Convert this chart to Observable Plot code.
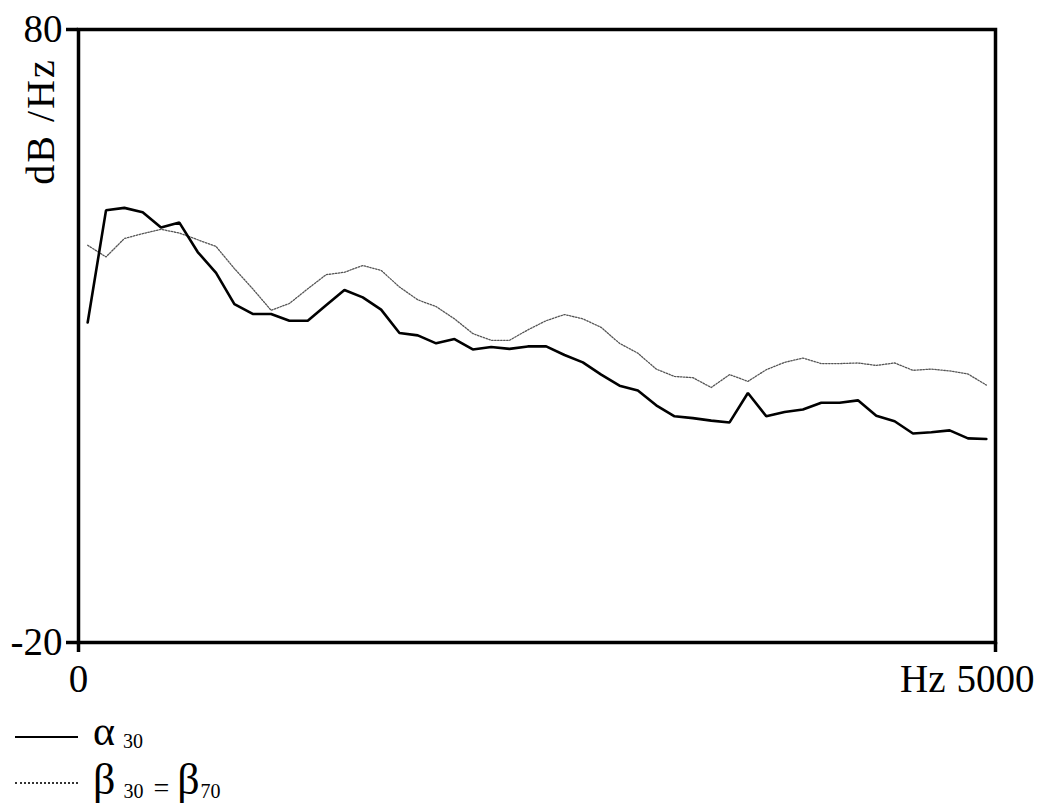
<!DOCTYPE html>
<html>
<head>
<meta charset="utf-8">
<script src="https://cdn.jsdelivr.net/npm/d3@7"></script>
<script src="https://cdn.jsdelivr.net/npm/@observablehq/plot@0.6"></script>
<style>
  html, body { margin: 0; padding: 0; background: #fff; }
  #chart svg { display: block; }
  #legend { position: relative; width: 1038px; height: 105px; font-family: "Liberation Serif", "Times New Roman", serif; font-size: 10px; color: #000; overflow: hidden; }
  #legend .sample { position: absolute; left: 15px; width: 63px; }
  #legend .lab { position: absolute; left: 93px; white-space: nowrap; }
  #legend .lab span { display: inline-block; }
  #legend .big1 { font-size: 42px; line-height: 34px; }
  #legend .big2 { font-size: 44px; line-height: 36px; }
  #legend .sub { font-size: 20px; line-height: 20px; margin-left: 8px; }
  #legend .eq { font-size: 28px; line-height: 20px; margin: 0 8px 0 10px; }
</style>
</head>
<body>
<div id="chart"></div>
<div id="legend"></div>
<script>
// Frequency bins (Hz)
const freqs = [50,150,250,350,450,550,650,750,850,950,1050,1150,1250,1350,1450,1550,1650,1750,1850,1950,
  2050,2150,2250,2350,2450,2550,2650,2750,2850,2950,3050,3150,3250,3350,3450,3550,3650,3750,3850,3950,
  4050,4150,4250,4350,4450,4550,4650,4750,4850,4950];
// α30 spectrum (dB/Hz)
const alpha30 = [32.2,50.5,50.9,50.2,47.7,48.5,43.7,40.3,35.2,33.6,33.6,32.5,32.5,35.0,37.5,36.3,34.3,30.5,30.1,28.8,
  29.5,27.8,28.2,27.9,28.3,28.3,26.9,25.7,23.7,21.9,21.1,18.7,16.9,16.6,16.2,15.9,20.7,16.9,17.6,18.0,
  19.1,19.1,19.5,17.0,16.1,14.1,14.3,14.6,13.3,13.2];
// β30 = β70 spectrum (dB/Hz)
const beta30 = [44.8,42.9,45.9,46.7,47.4,46.8,45.7,44.6,41.0,37.7,34.2,35.3,37.7,40.0,40.4,41.5,40.7,38.0,35.9,34.8,
  32.8,30.4,29.3,29.3,31.0,32.5,33.5,32.8,31.4,28.8,27.2,24.6,23.4,23.2,21.6,23.7,22.6,24.5,25.7,26.4,
  25.5,25.5,25.6,25.2,25.6,24.4,24.6,24.3,23.8,22.0];
const xTicks = [0, 5000];
const yTicks = [-20, 80];
const xLabel = "Hz";
const yLabel = "dB /Hz";

const alphaData = freqs.map((f, i) => ({f, v: alpha30[i]}));
const betaData = freqs.map((f, i) => ({f, v: beta30[i]}));

const chart = Plot.plot({
  width: 1038,
  height: 700,
  marginLeft: 78,
  marginRight: 43,
  marginTop: 29,
  marginBottom: 58,
  style: {fontFamily: "'Liberation Serif', 'Times New Roman', serif", fontSize: "39px", color: "#000", background: "#fff", overflow: "visible"},
  x: {domain: [0, 5000]},
  y: {domain: [-20, 80]},
  marks: [
    Plot.line(betaData, {x: "f", y: "v", stroke: "#555", strokeWidth: 1.3, strokeDasharray: "1.5,1.5"}),
    Plot.line(alphaData, {x: "f", y: "v", stroke: "#000", strokeWidth: 2.6, strokeLinejoin: "miter"}),
    Plot.frame({stroke: "#000", strokeWidth: 3.5}),
    Plot.axisX({ticks: xTicks, tickFormat: d => String(d), tickSize: 10, tickPadding: 12, strokeWidth: 3.5, label: null, fontSize: 39}),
    Plot.axisY({ticks: yTicks, tickFormat: d => String(d), tickSize: 12, tickPadding: 4, strokeWidth: 3.5, label: null, fontSize: 39}),
    Plot.text([xLabel], {frameAnchor: "bottom-right", text: d => d, textAnchor: "end", lineAnchor: "top", dx: -50, dy: 22, fontSize: 39}),
    Plot.text([yLabel], {frameAnchor: "top-left", text: d => d, rotate: -90, textAnchor: "middle", lineAnchor: "middle", dx: -37, dy: 92, fontSize: 40})
  ]
});
document.getElementById("chart").appendChild(chart);
d3.select(chart).selectAll("text").filter(function() { return this.textContent === yLabel; }).style("letter-spacing", "2px");

// Legend (HTML, below the SVG)
const legend = d3.select("#legend");
legend.append("div").attr("class", "sample").style("top", "36px").style("border-top", "2.5px solid #000");
const l1 = legend.append("div").attr("class", "lab").style("top", "14px");
l1.append("span").attr("class", "big1").text("α");
l1.append("span").attr("class", "sub").style("vertical-align", "-3px").text("30");
legend.append("div").attr("class", "sample").style("top", "82px").style("border-top", "2px dotted #333");
const l2 = legend.append("div").attr("class", "lab").style("top", "62px");
l2.append("span").attr("class", "big2").text("β");
l2.append("span").attr("class", "sub").style("vertical-align", "-4px").text("30");
l2.append("span").attr("class", "eq").style("vertical-align", "-3px").text("=");
l2.append("span").attr("class", "big2").text("β");
l2.append("span").attr("class", "sub").style("margin-left", "1px").style("vertical-align", "-4px").text("70");
</script>
</body>
</html>
